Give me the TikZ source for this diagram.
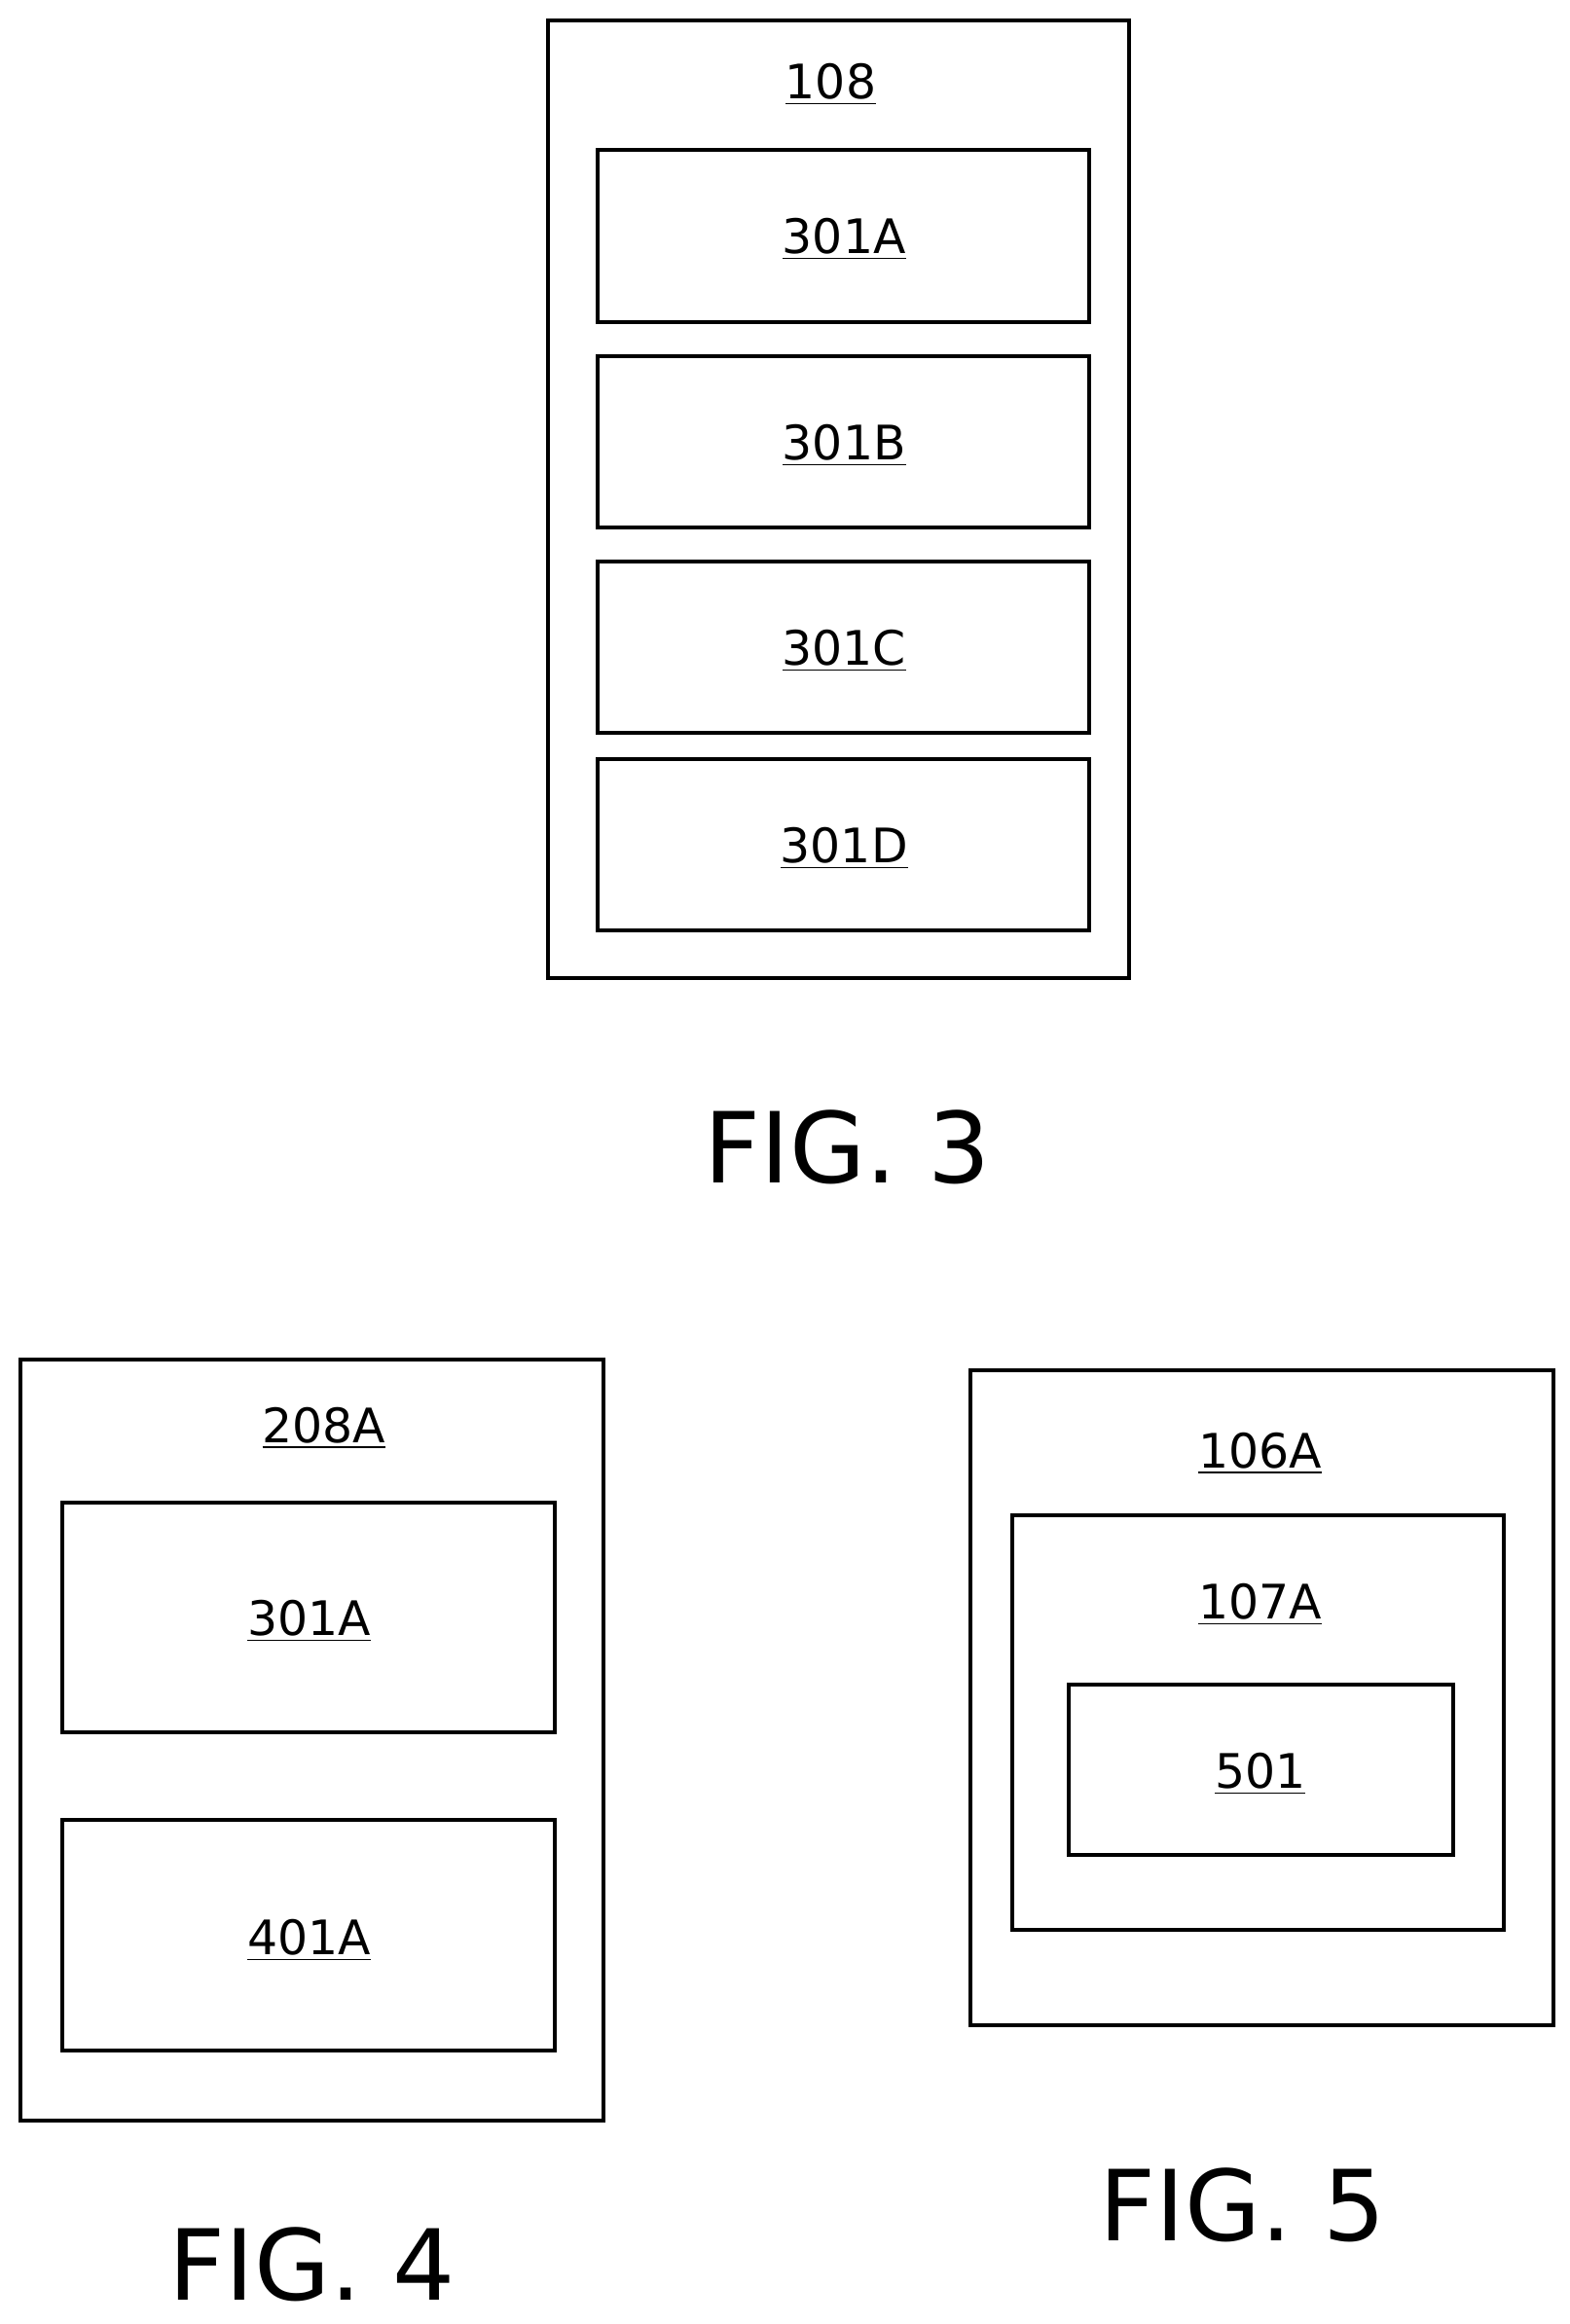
\documentclass[tikz,border=0pt]{standalone}
\usepackage{fontspec}
\setmainfont{DejaVu Sans}
\begin{document}
\begin{tikzpicture}[x=0.5pt,y=-0.5pt,
  box/.style={draw,line width=1.3pt},
  lab/.style={font=\fontsize{16}{18}\selectfont},
  fig/.style={font=\fontsize{33}{36}\selectfont}]
\useasboundingbox (0,0) rectangle (1056,1564);
% FIG 3
\draw[box] (369,14) rectangle (760,658);
\node[lab] (l108) at (559,57) {\underline{108}};
\draw[box] (402,101) rectangle (733,217); \node[lab] (a) at (568,161) {\underline{301A}};
\draw[box] (402,240) rectangle (733,355); \node[lab] (b) at (568,300) {\underline{301B}};
\draw[box] (402,378) rectangle (733,493); \node[lab] (c) at (568,438) {\underline{301C}};
\draw[box] (402,511) rectangle (733,626); \node[lab] (d) at (568,571) {\underline{301D}};
\node[fig] (f3) at (570,772) {FIG. 3};
% FIG 4
\draw[box] (14,915) rectangle (406,1427);
\node[lab] (l208) at (218,961) {\underline{208A}};
\draw[box] (42,1011) rectangle (373,1166); \node[lab] (e) at (208,1091) {\underline{301A}};
\draw[box] (42,1225) rectangle (373,1380); \node[lab] (g) at (208,1306) {\underline{401A}};
\node[fig] (f4) at (210,1524) {FIG. 4};
% FIG 5
\draw[box] (653,922) rectangle (1045,1363);
\node[lab] (l106) at (848,978) {\underline{106A}};
\draw[box] (681,1020) rectangle (1012,1299);
\node[lab] (l107) at (848,1080) {\underline{107A}};
\draw[box] (719,1134) rectangle (978,1248); \node[lab] (h) at (848,1194) {\underline{501}};
\node[fig] (f5) at (836,1484) {FIG. 5};
\end{tikzpicture}
\end{document}
